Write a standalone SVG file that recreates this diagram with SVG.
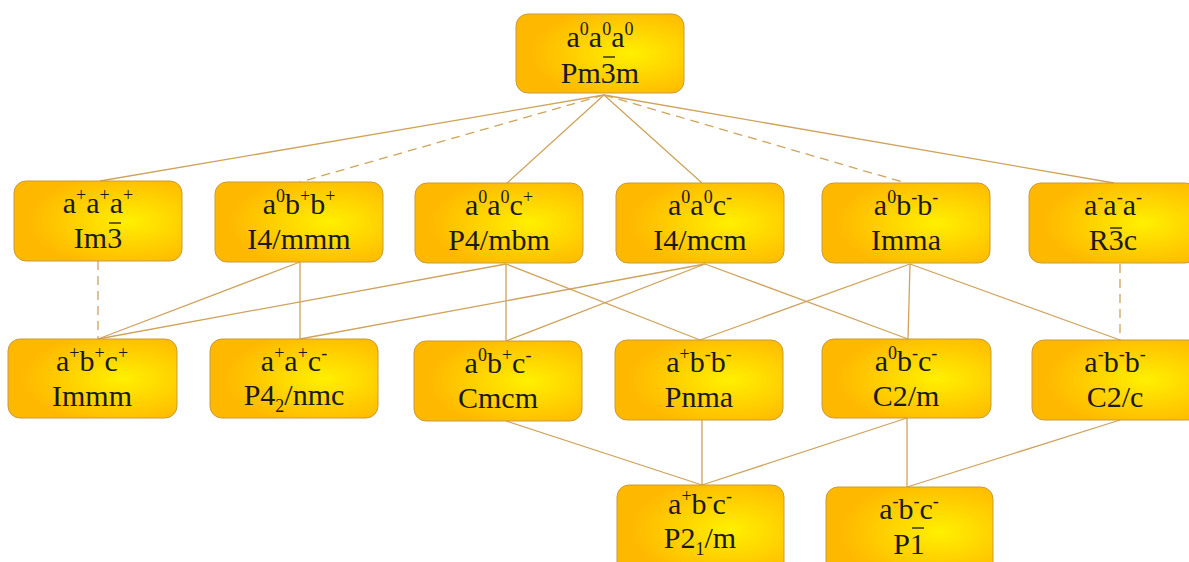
<svg xmlns="http://www.w3.org/2000/svg" width="1189" height="562" viewBox="0 0 1189 562">
  <defs>
    <radialGradient id="glow" cx="0.68" cy="0.5" r="0.6" fx="0.68" fy="0.5">
      <stop offset="0" stop-color="#fff000"/>
      <stop offset="0.55" stop-color="#ffd000"/>
      <stop offset="1" stop-color="#ffb800"/>
    </radialGradient>
    <style>
      .box { fill: url(#glow); stroke: #c99a3a; stroke-width: 1; }
      .lbl { font-family: "Liberation Serif", "Times New Roman", serif; font-size: 30px; fill: #1a1a1a; text-anchor: middle; }
      .sup { font-size: 18px; }
      .sub { font-size: 18px; }
      .bar { stroke: #1a1a1a; stroke-width: 1.3; }
      .edge { stroke: #cfa35c; stroke-width: 1.3; fill: none; }
      .dash { stroke-dasharray: 9 6; }
    </style>
  </defs>

  <!-- group-subgroup connectors -->
  <g id="connectors">
    <line class="edge" x1="604" y1="95" x2="100" y2="181"/>
    <line class="edge dash" x1="604" y1="95" x2="300" y2="182"/>
    <line class="edge" x1="604" y1="95" x2="507" y2="183"/>
    <line class="edge" x1="604" y1="95" x2="702" y2="183"/>
    <line class="edge dash" x1="604" y1="95" x2="906" y2="183"/>
    <line class="edge" x1="604" y1="95" x2="1114" y2="183"/>

    <line class="edge dash" x1="98" y1="261" x2="98" y2="339"/>
    <line class="edge" x1="300" y1="262" x2="98" y2="339"/>
    <line class="edge" x1="300" y1="262" x2="300" y2="339"/>
    <line class="edge" x1="506" y1="264" x2="98" y2="339"/>
    <line class="edge" x1="506" y1="264" x2="506" y2="341"/>
    <line class="edge" x1="506" y1="264" x2="700" y2="340"/>
    <line class="edge" x1="705" y1="264" x2="300" y2="339"/>
    <line class="edge" x1="705" y1="264" x2="506" y2="341"/>
    <line class="edge" x1="705" y1="264" x2="908" y2="339"/>
    <line class="edge" x1="910" y1="264" x2="700" y2="340"/>
    <line class="edge" x1="910" y1="264" x2="908" y2="339"/>
    <line class="edge" x1="910" y1="264" x2="1120" y2="340"/>
    <line class="edge dash" x1="1120" y1="264" x2="1120" y2="340"/>

    <line class="edge" x1="506" y1="421" x2="702" y2="485"/>
    <line class="edge" x1="702" y1="420" x2="702" y2="485"/>
    <line class="edge" x1="907" y1="418" x2="702" y2="485"/>
    <line class="edge" x1="907" y1="418" x2="907" y2="487"/>
    <line class="edge" x1="1120" y1="420" x2="907" y2="487"/>
  </g>

  <!-- Pm-3m -->
  <g id="n-Pm3m">
    <rect class="box" x="516" y="14" width="168" height="79" rx="12"/>
    <text class="lbl" x="600" y="47">a<tspan class="sup" dy="-12">0</tspan><tspan dy="12">a</tspan><tspan class="sup" dy="-12">0</tspan><tspan dy="12">a</tspan><tspan class="sup" dy="-12">0</tspan></text>
    <text class="lbl" x="600" y="83">Pm3m</text>
    <line class="bar" x1="603" y1="57" x2="615" y2="57"/>
  </g>

  <!-- Im-3 -->
  <g id="n-Im3">
    <rect class="box" x="14" y="181" width="168" height="80" rx="12"/>
    <text class="lbl" x="98" y="213">a<tspan class="sup" dy="-12">+</tspan><tspan dy="12">a</tspan><tspan class="sup" dy="-12">+</tspan><tspan dy="12">a</tspan><tspan class="sup" dy="-12">+</tspan></text>
    <text class="lbl" x="98" y="248">Im3</text>
    <line class="bar" x1="109" y1="223" x2="121" y2="223"/>
  </g>

  <!-- I4/mmm -->
  <g id="n-I4mmm">
    <rect class="box" x="215" y="182" width="168" height="80" rx="12"/>
    <text class="lbl" x="299" y="214">a<tspan class="sup" dy="-12">0</tspan><tspan dy="12">b</tspan><tspan class="sup" dy="-12">+</tspan><tspan dy="12">b</tspan><tspan class="sup" dy="-12">+</tspan></text>
    <text class="lbl" x="299" y="249">I4/mmm</text>
  </g>

  <!-- P4/mbm -->
  <g id="n-P4mbm">
    <rect class="box" x="415" y="183" width="168" height="80" rx="12"/>
    <text class="lbl" x="499" y="215">a<tspan class="sup" dy="-12">0</tspan><tspan dy="12">a</tspan><tspan class="sup" dy="-12">0</tspan><tspan dy="12">c</tspan><tspan class="sup" dy="-12">+</tspan></text>
    <text class="lbl" x="499" y="250">P4/mbm</text>
  </g>

  <!-- I4/mcm -->
  <g id="n-I4mcm">
    <rect class="box" x="616" y="183" width="168" height="80" rx="12"/>
    <text class="lbl" x="700" y="215">a<tspan class="sup" dy="-12">0</tspan><tspan dy="12">a</tspan><tspan class="sup" dy="-12">0</tspan><tspan dy="12">c</tspan><tspan class="sup" dy="-12">-</tspan></text>
    <text class="lbl" x="700" y="250">I4/mcm</text>
  </g>

  <!-- Imma -->
  <g id="n-Imma">
    <rect class="box" x="822" y="183" width="168" height="80" rx="12"/>
    <text class="lbl" x="906" y="215">a<tspan class="sup" dy="-12">0</tspan><tspan dy="12">b</tspan><tspan class="sup" dy="-12">-</tspan><tspan dy="12">b</tspan><tspan class="sup" dy="-12">-</tspan></text>
    <text class="lbl" x="906" y="250">Imma</text>
  </g>

  <!-- R-3c -->
  <g id="n-R3c">
    <rect class="box" x="1029" y="183" width="168" height="80" rx="12"/>
    <text class="lbl" x="1113" y="215">a<tspan class="sup" dy="-12">-</tspan><tspan dy="12">a</tspan><tspan class="sup" dy="-12">-</tspan><tspan dy="12">a</tspan><tspan class="sup" dy="-12">-</tspan></text>
    <text class="lbl" x="1113" y="250">R3c</text>
    <line class="bar" x1="1110" y1="228" x2="1122" y2="228"/>
  </g>

  <!-- Immm -->
  <g id="n-Immm">
    <rect class="box" x="8" y="339" width="169" height="79" rx="12"/>
    <text class="lbl" x="92" y="371">a<tspan class="sup" dy="-12">+</tspan><tspan dy="12">b</tspan><tspan class="sup" dy="-12">+</tspan><tspan dy="12">c</tspan><tspan class="sup" dy="-12">+</tspan></text>
    <text class="lbl" x="92" y="406">Immm</text>
  </g>

  <!-- P4_2/nmc -->
  <g id="n-P42nmc">
    <rect class="box" x="210" y="339" width="168" height="79" rx="12"/>
    <text class="lbl" x="294" y="371">a<tspan class="sup" dy="-12">+</tspan><tspan dy="12">a</tspan><tspan class="sup" dy="-12">+</tspan><tspan dy="12">c</tspan><tspan class="sup" dy="-12">-</tspan></text>
    <text class="lbl" x="294" y="405">P4<tspan class="sub" dy="7">2</tspan><tspan dy="-7">/nmc</tspan></text>
  </g>

  <!-- Cmcm -->
  <g id="n-Cmcm">
    <rect class="box" x="414" y="341" width="168" height="80" rx="12"/>
    <text class="lbl" x="498" y="373">a<tspan class="sup" dy="-12">0</tspan><tspan dy="12">b</tspan><tspan class="sup" dy="-12">+</tspan><tspan dy="12">c</tspan><tspan class="sup" dy="-12">-</tspan></text>
    <text class="lbl" x="498" y="408">Cmcm</text>
  </g>

  <!-- Pnma -->
  <g id="n-Pnma">
    <rect class="box" x="615" y="340" width="168" height="80" rx="12"/>
    <text class="lbl" x="699" y="372">a<tspan class="sup" dy="-12">+</tspan><tspan dy="12">b</tspan><tspan class="sup" dy="-12">-</tspan><tspan dy="12">b</tspan><tspan class="sup" dy="-12">-</tspan></text>
    <text class="lbl" x="699" y="407">Pnma</text>
  </g>

  <!-- C2/m -->
  <g id="n-C2m">
    <rect class="box" x="822" y="339" width="169" height="79" rx="12"/>
    <text class="lbl" x="906" y="371">a<tspan class="sup" dy="-12">0</tspan><tspan dy="12">b</tspan><tspan class="sup" dy="-12">-</tspan><tspan dy="12">c</tspan><tspan class="sup" dy="-12">-</tspan></text>
    <text class="lbl" x="906" y="406">C2/m</text>
  </g>

  <!-- C2/c -->
  <g id="n-C2c">
    <rect class="box" x="1032" y="340" width="168" height="80" rx="12"/>
    <text class="lbl" x="1115" y="372">a<tspan class="sup" dy="-12">-</tspan><tspan dy="12">b</tspan><tspan class="sup" dy="-12">-</tspan><tspan dy="12">b</tspan><tspan class="sup" dy="-12">-</tspan></text>
    <text class="lbl" x="1115" y="407">C2/c</text>
  </g>

  <!-- P2_1/m -->
  <g id="n-P21m">
    <rect class="box" x="617" y="485" width="167" height="90" rx="12"/>
    <text class="lbl" x="700" y="514">a<tspan class="sup" dy="-12">+</tspan><tspan dy="12">b</tspan><tspan class="sup" dy="-12">-</tspan><tspan dy="12">c</tspan><tspan class="sup" dy="-12">-</tspan></text>
    <text class="lbl" x="700" y="548">P2<tspan class="sub" dy="7">1</tspan><tspan dy="-7">/m</tspan></text>
  </g>

  <!-- P-1 -->
  <g id="n-P1">
    <rect class="box" x="826" y="487" width="167" height="90" rx="12"/>
    <text class="lbl" x="909" y="519">a<tspan class="sup" dy="-12">-</tspan><tspan dy="12">b</tspan><tspan class="sup" dy="-12">-</tspan><tspan dy="12">c</tspan><tspan class="sup" dy="-12">-</tspan></text>
    <text class="lbl" x="909" y="554">P1</text>
    <line class="bar" x1="912" y1="528" x2="924" y2="528"/>
  </g>
</svg>
